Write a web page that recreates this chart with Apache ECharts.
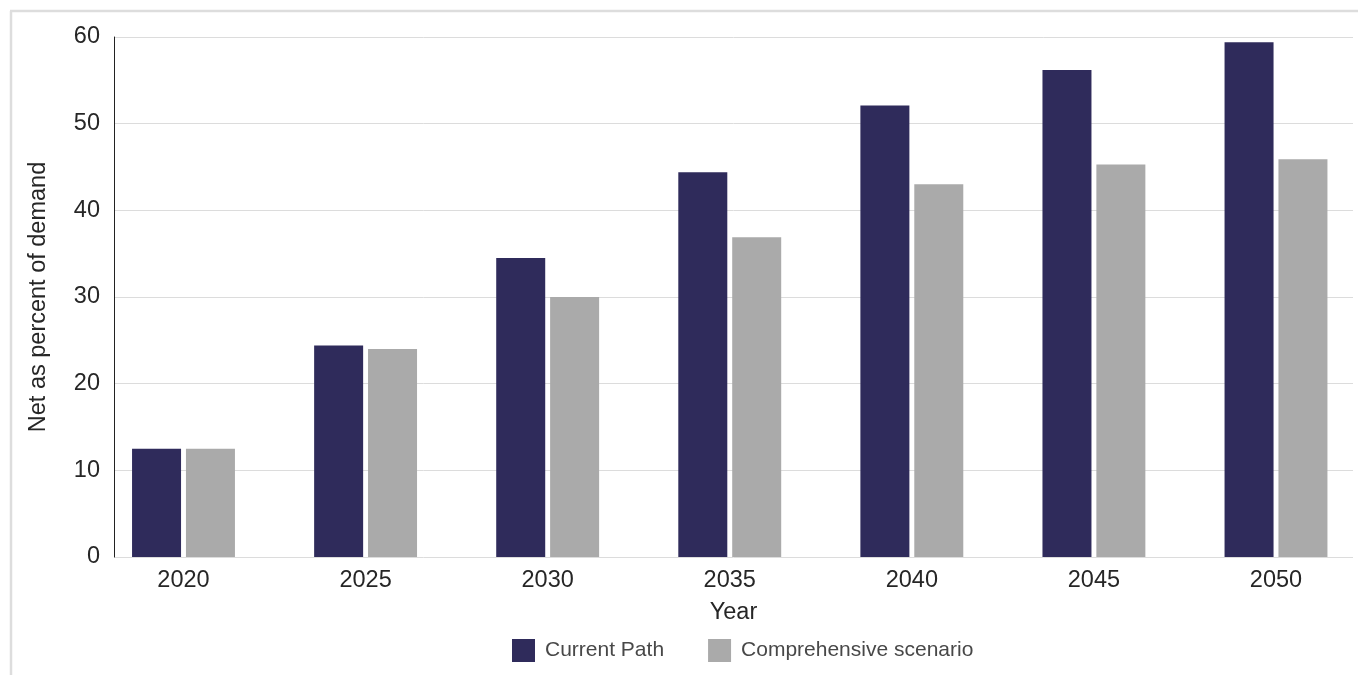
<!DOCTYPE html>
<html>
<head>
<meta charset="utf-8">
<script src="https://cdn.jsdelivr.net/npm/echarts@6/dist/echarts.min.js"></script>
<style>
html,body{margin:0;padding:0;background:#fff;}
#chart{width:1358px;height:675px;}
</style>
</head>
<body>
<div id="chart"></div>
<script>
const categories = ['2020','2025','2030','2035','2040','2045','2050'];
const currentPath = [12.5, 24.4, 34.5, 44.4, 52.1, 56.2, 59.4];
const comprehensive = [12.5, 24.0, 30.0, 36.9, 43.0, 45.3, 45.9];
const yTicks = [0, 10, 20, 30, 40, 50, 60];

const FONT = '"Liberation Sans", Arial, sans-serif';
const TXT = '#262626';
const chart = echarts.init(document.getElementById('chart'));
chart.setOption({
  animation: false,
  textStyle: { fontFamily: FONT },
  graphic: [
    { type: 'line', shape: { x1: 11, y1: 11, x2: 11, y2: 675 }, style: { stroke: '#dddddd', lineWidth: 2.5 } },
    { type: 'line', shape: { x1: 10, y1: 11, x2: 1358, y2: 11 }, style: { stroke: '#dddddd', lineWidth: 2.5 } }
  ],
  legend: {
    left: 507,
    top: 634,
    itemWidth: 23,
    itemHeight: 23,
    itemGap: 44,
    textStyle: { fontSize: 21, color: '#484848', fontFamily: FONT, padding: [0, 0, 0, 5] },
    data: [
      { name: 'Current Path', icon: 'rect' },
      { name: 'Comprehensive scenario', icon: 'rect' }
    ]
  },
  grid: [
    { left: 183.5, width: 1092.5, top: 37, bottom: 118 },
    { left: 114, right: 5, top: 37, bottom: 118 }
  ],
  xAxis: [
    {
      type: 'category', gridIndex: 0, data: categories, boundaryGap: false,
      axisLine: { show: false }, axisTick: { show: false },
      axisLabel: { fontSize: 23.5, color: TXT, margin: 12 }
    },
    {
      type: 'value', gridIndex: 1, min: 0, max: 1,
      name: 'Year', nameLocation: 'middle', nameGap: 44,
      nameTextStyle: { fontSize: 23.5, color: TXT },
      axisLine: { show: false }, axisTick: { show: false },
      axisLabel: { show: false }, splitLine: { show: false }
    }
  ],
  yAxis: [
    {
      type: 'value', gridIndex: 0, min: 0, max: 60, interval: 10,
      show: false, splitLine: { show: false }
    },
    {
      type: 'value', gridIndex: 1, min: yTicks[0], max: yTicks[yTicks.length - 1], interval: 10,
      name: 'Net as percent of demand', nameLocation: 'middle', nameGap: 63,
      nameTextStyle: { fontSize: 23.5, color: TXT },
      axisLine: { show: true, lineStyle: { color: '#222', width: 1 } },
      axisTick: { show: false },
      axisLabel: { fontSize: 23.5, color: TXT, margin: 14 },
      splitLine: { show: true, lineStyle: { color: '#dcdcdc', width: 1 } }
    }
  ],
  series: [
    {
      name: 'Current Path', type: 'bar', xAxisIndex: 0, yAxisIndex: 0,
      data: currentPath, barWidth: 49, barGap: '10%',
      itemStyle: { color: '#2f2b5b' }
    },
    {
      name: 'Comprehensive scenario', type: 'bar', xAxisIndex: 0, yAxisIndex: 0,
      data: comprehensive, barWidth: 49, barGap: '10%',
      itemStyle: { color: '#aaaaaa' }
    }
  ]
});
</script>
</body>
</html>
